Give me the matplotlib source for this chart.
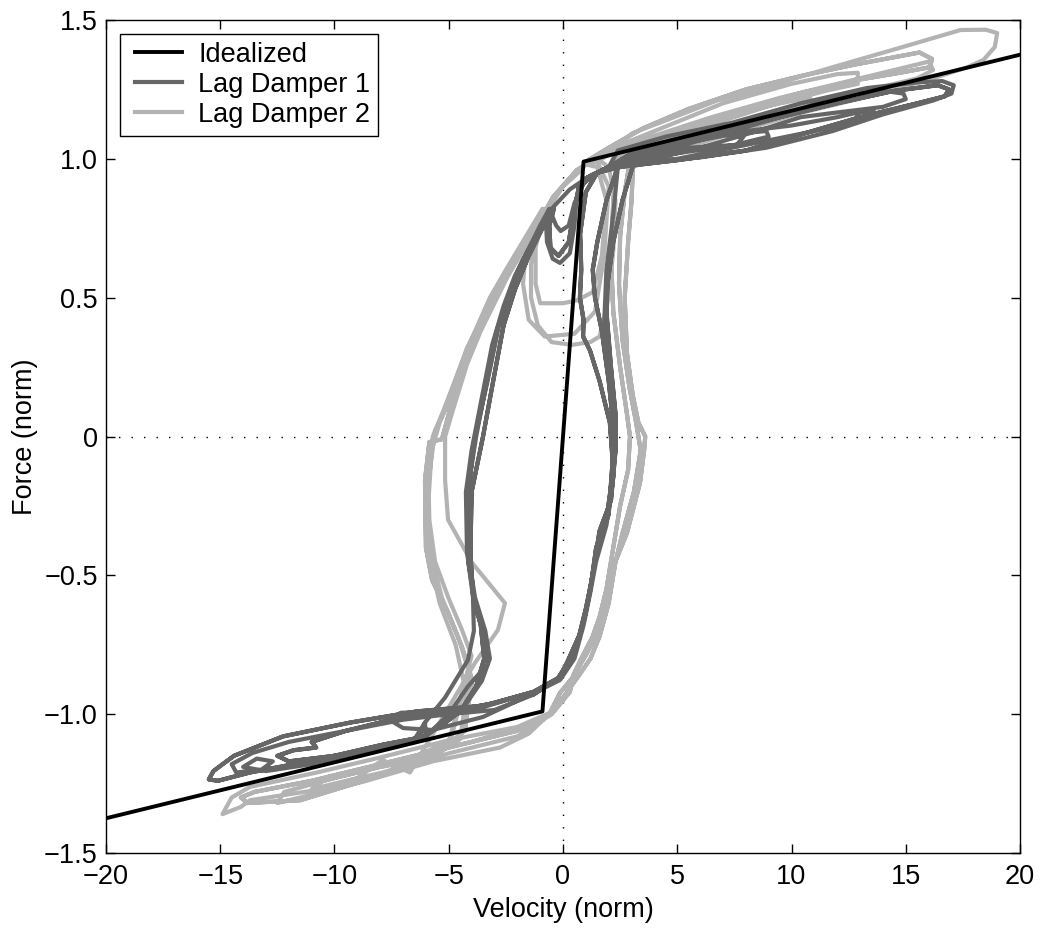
import matplotlib
matplotlib.use("Agg")
import matplotlib.pyplot as plt
from matplotlib.lines import Line2D
from matplotlib.legend_handler import HandlerLine2D

plt.rcParams['font.family'] = ['Liberation Sans', 'DejaVu Sans']

# ---------------- data ----------------
ideal_v = [-20.0, -0.9, 0.9, 20.0]
ideal_f = [-1.375, -0.99, 0.99, 1.375]

x_ticks = [-20, -15, -10, -5, 0, 5, 10, 15, 20]
x_tick_labels = ["\u221220", "\u221215", "\u221210", "\u22125", "0", "5", "10", "15", "20"]
y_ticks = [-1.5, -1.0, -0.5, 0.0, 0.5, 1.0, 1.5]
y_tick_labels = ["\u22121.5", "\u22121.0", "\u22120.5", "0", "0.5", "1.0", "1.5"]

legend_labels = ["Idealized", "Lag Damper 1", "Lag Damper 2"]

# ---- Lag Damper 1 (dark) segments, (velocity, force) ----
d1_rise1 = [(-6.0, -1.08), (-5.16, -1.02), (-4.3, -0.97), (-3.55, -0.88), (-3.2, -0.8), (-3.4, -0.7),
            (-3.85, -0.58), (-4.1, -0.45), (-4.15, -0.3), (-4.1, -0.16), (-3.8, 0.0), (-3.4, 0.17),
            (-2.9, 0.38), (-2.3, 0.53), (-1.8, 0.63), (-1.2, 0.72), (-0.5, 0.82), (0.3, 0.89),
            (1.2, 0.94), (2.0, 0.97)]
d1_rise2 = [(-6.04, -1.03), (-5.16, -0.94), (-4.16, -0.805), (-3.9, -0.7), (-3.95, -0.55), (-4.2, -0.42),
            (-4.25, -0.2), (-4.0, -0.05), (-3.6, 0.12), (-3.1, 0.33), (-2.6, 0.47), (-2.1, 0.58),
            (-1.6, 0.66), (-1.0, 0.76), (-0.6, 0.82), (-0.75, 0.78), (-0.7, 0.7), (-0.45, 0.64),
            (-0.13, 0.625), (0.3, 0.66), (0.5, 0.76), (0.6, 0.86), (1.0, 0.93), (1.8, 0.96)]
d1_rise3 = [(-6.3, -1.09), (-5.3, -1.04), (-4.5, -0.99), (-3.8, -0.9), (-3.45, -0.8), (-3.6, -0.68),
            (-3.95, -0.56), (-4.05, -0.42), (-4.0, -0.2), (-3.5, 0.0), (-3.1, 0.18), (-2.6, 0.4),
            (-2.1, 0.53), (-1.5, 0.65), (-0.9, 0.75), (-0.4, 0.82), (-0.6, 0.76), (-0.55, 0.68),
            (-0.2, 0.65), (0.25, 0.7), (0.45, 0.8), (0.7, 0.9), (1.5, 0.95), (2.2, 0.98)]
d1_rise4 = [(-6.0, -1.08), (-5.0, -1.0), (-4.16, -0.9), (-3.3, -0.82), (-3.5, -0.7), (-3.9, -0.6),
            (-4.15, -0.45), (-4.2, -0.25), (-3.9, -0.02), (-3.3, 0.2), (-2.8, 0.4), (-2.2, 0.55),
            (-1.6, 0.65), (-1.0, 0.74), (-0.5, 0.8), (-0.3, 0.76), (-0.1, 0.74), (0.25, 0.76),
            (0.5, 0.84), (1.0, 0.93), (2.0, 0.97)]
d1_upA = [(2.0, 0.97), (2.4, 1.03), (4.5, 1.08), (7.4, 1.13), (10.4, 1.2), (13.3, 1.255), (15.5, 1.275),
          (16.6, 1.28), (17.1, 1.265), (17.0, 1.235), (16.2, 1.21), (14.0, 1.16), (11.8, 1.1),
          (8.9, 1.04), (6.0, 1.005), (3.1, 0.985)]
d1_upB = [(1.8, 0.96), (3.0, 1.02), (6.0, 1.08), (9.0, 1.14), (12.0, 1.2), (14.5, 1.245), (16.4, 1.265),
          (16.9, 1.25), (16.7, 1.225), (15.5, 1.2), (13.0, 1.15), (10.5, 1.09), (8.0, 1.03),
          (5.0, 0.995), (2.4, 0.97)]
d1_upC = [(2.2, 0.98), (4.0, 1.02), (7.0, 1.09), (9.5, 1.15), (11.8, 1.223), (14.0, 1.245), (14.9, 1.235),
          (15.0, 1.215), (14.0, 1.187), (11.8, 1.165), (10.4, 1.15), (8.5, 1.1), (6.0, 1.04), (3.5, 0.99),
          (1.5, 0.95)]
d1_upD = [(2.0, 0.97), (4.0, 1.04), (7.0, 1.09), (10.0, 1.12), (12.0, 1.15), (12.8, 1.165), (13.6, 1.178),
          (13.5, 1.15), (12.8, 1.145), (13.0, 1.17), (13.7, 1.165), (13.2, 1.14), (11.0, 1.1),
          (8.0, 1.05), (5.0, 1.0), (3.1, 0.985)]
d1_upE = [(2.4, 0.97), (3.0, 1.0), (5.5, 1.06), (7.5, 1.09), (8.9, 1.1), (9.0, 1.08), (7.5, 1.05),
          (5.0, 1.02), (3.5, 1.0), (4.5, 1.06), (6.5, 1.09), (7.9, 1.08), (7.6, 1.05), (5.5, 1.04),
          (3.1, 0.985)]
d1_right1 = [(3.1, 0.985), (2.6, 0.85), (2.2, 0.7), (1.95, 0.55), (1.9, 0.45), (2.1, 0.25), (2.3, 0.08),
             (2.3, -0.05), (2.1, -0.23), (1.6, -0.34), (1.35, -0.47), (1.1, -0.59), (0.8, -0.7),
             (0.2, -0.81), (-0.13, -0.866), (-1.3, -0.92)]
d1_right2 = [(2.4, 0.97), (1.9, 0.85), (1.5, 0.7), (1.3, 0.6), (1.4, 0.5), (1.7, 0.38), (2.0, 0.2),
             (2.25, 0.0), (2.0, -0.28), (1.5, -0.4), (1.25, -0.52), (1.0, -0.62), (0.7, -0.72),
             (0.2, -0.82), (-0.2, -0.87), (-1.3, -0.93)]
d1_right3 = [(1.5, 0.95), (1.0, 0.88), (0.75, 0.73), (0.8, 0.6), (0.74, 0.5), (0.9, 0.42), (0.88, 0.36),
             (1.18, 0.31), (1.6, 0.2), (2.05, 0.05), (2.2, -0.12), (1.9, -0.3), (1.45, -0.4),
             (1.2, -0.55), (0.95, -0.65), (0.6, -0.75), (0.1, -0.83), (-0.3, -0.88), (-1.3, -0.92)]
d1_botA = [(-1.3, -0.92), (-3.5, -0.97), (-5.0, -0.98), (-6.4, -0.99), (-9.3, -1.03), (-12.25, -1.08),
           (-14.4, -1.15), (-15.3, -1.205), (-15.5, -1.235), (-15.1, -1.24), (-13.7, -1.21),
           (-10.8, -1.165), (-7.9, -1.11), (-6.0, -1.08)]
d1_botB = [(-1.3, -0.93), (-3.0, -0.985), (-5.0, -1.0), (-7.0, -1.02), (-9.5, -1.06), (-12.0, -1.1),
           (-13.6, -1.14), (-14.5, -1.18), (-14.3, -1.21), (-13.2, -1.2), (-12.7, -1.17), (-13.4, -1.16),
           (-14.0, -1.19), (-13.0, -1.205), (-11.0, -1.18), (-8.5, -1.13), (-6.5, -1.09), (-6.04, -1.03)]
d1_botC = [(-1.3, -0.92), (-3.0, -0.96), (-5.0, -0.99), (-7.5, -1.02), (-9.5, -1.06), (-11.0, -1.1),
           (-10.8, -1.12), (-11.8, -1.13), (-12.5, -1.15), (-12.0, -1.17), (-10.0, -1.15), (-7.5, -1.12),
           (-6.3, -1.09)]
d1_botD = [(-1.3, -0.92), (-3.5, -0.975), (-5.5, -0.99), (-7.1, -0.995), (-7.6, -1.02), (-7.0, -1.05),
           (-5.7, -1.057), (-3.5, -1.01), (-1.3, -0.925), (-0.13, -0.877), (0.5, -0.8), (0.9, -0.68),
           (1.2, -0.56), (1.45, -0.45), (1.9, -0.32), (2.2, -0.15), (2.3, 0.05), (2.0, 0.22),
           (1.8, 0.4), (1.9, 0.6), (2.2, 0.8), (2.4, 0.97)]

# ---- Lag Damper 2 (light) segments ----
d2_rise1 = [(-4.3, -1.06), (-3.98, -0.877), (-4.42, -0.758), (-5.03, -0.635), (-5.73, -0.517),
            (-6.0, -0.4), (-6.04, -0.157), (-5.85, -0.02), (-5.3, -0.01), (-5.1, 0.05), (-4.6, 0.2),
            (-4.0, 0.34), (-3.4, 0.44), (-2.76, 0.53), (-2.0, 0.64), (-1.3, 0.733), (-0.44, 0.862),
            (0.61, 0.96), (1.6, 1.007)]
d2_rise2 = [(-7.9, -1.165), (-6.7, -1.21), (-4.73, -0.938), (-3.85, -0.815), (-2.85, -0.697),
            (-2.54, -0.6), (-3.98, -0.455), (-5.03, -0.3), (-5.16, -0.157), (-5.16, 0.0), (-4.8, 0.1),
            (-4.2, 0.26), (-3.6, 0.38), (-3.0, 0.48), (-2.4, 0.58), (-1.6, 0.69), (-0.8, 0.8),
            (0.0, 0.9), (0.8, 0.96), (1.0, 0.99)]
d2_rise3 = [(-5.0, -1.1), (-4.0, -0.79), (-4.42, -0.697), (-5.03, -0.578), (-5.6, -0.45), (-5.85, -0.3),
            (-5.9, -0.1), (-5.7, 0.0), (-5.2, 0.1), (-4.5, 0.25), (-3.9, 0.37), (-3.2, 0.5), (-2.5, 0.6),
            (-1.7, 0.71), (-0.9, 0.82), (-1.4, 0.62), (-1.4, 0.5), (-1.1, 0.4), (-0.5, 0.34), (0.4, 0.33),
            (1.2, 0.34), (1.6, 0.36), (2.0, 0.5), (2.2, 0.67), (2.3, 0.85), (2.0, 0.97), (1.5, 1.0)]
d2_rise4 = [(-4.5, -1.09), (-4.1, -0.85), (-4.6, -0.72), (-5.3, -0.58), (-5.8, -0.42), (-5.95, -0.2),
            (-5.6, 0.02), (-5.0, 0.12), (-4.4, 0.27), (-3.7, 0.4), (-3.0, 0.52), (-2.3, 0.62),
            (-1.5, 0.72), (-0.8, 0.82), (-1.2, 0.68), (-1.2, 0.55), (-1.0, 0.48), (0.0, 0.48),
            (0.6, 0.49), (1.3, 0.52), (1.7, 0.65), (1.9, 0.85), (1.5, 0.97), (1.0, 0.98)]
d2_rise5 = [(-5.0, -1.12), (-4.3, -0.9), (-4.7, -0.75), (-5.4, -0.6), (-5.8, -0.45), (-5.9, -0.25),
            (-5.75, -0.05), (-5.4, 0.05), (-4.8, 0.18), (-4.2, 0.32), (-3.5, 0.43), (-2.9, 0.52),
            (-2.2, 0.62), (-1.6, 0.7), (-1.75, 0.55), (-1.5, 0.42), (-0.8, 0.36), (0.5, 0.37),
            (1.4, 0.45), (1.8, 0.65), (2.0, 0.9), (1.5, 0.99)]
d2_upA = [(1.6, 1.007), (3.06, 1.093), (4.55, 1.14), (6.74, 1.21), (8.93, 1.26), (11.8, 1.33), (14.75, 1.4),
          (17.4, 1.464), (18.5, 1.465), (19.0, 1.453), (18.9, 1.403), (18.4, 1.356), (17.7, 1.33),
          (16.2, 1.29), (13.3, 1.223), (10.4, 1.165), (7.44, 1.093), (4.55, 1.02), (3.06, 0.97)]
d2_upB = [(1.0, 0.99), (2.0, 1.04), (3.5, 1.11), (5.5, 1.18), (8.0, 1.25), (10.5, 1.3), (12.8, 1.34),
          (14.75, 1.37), (15.6, 1.383), (16.15, 1.36), (16.06, 1.33), (14.75, 1.31), (12.87, 1.284),
          (10.4, 1.237), (7.44, 1.165), (4.55, 1.08), (2.36, 1.007)]
d2_upC = [(1.5, 1.0), (2.5, 1.05), (4.0, 1.1), (7.0, 1.2), (10.0, 1.27), (12.0, 1.305), (12.9, 1.31),
          (12.9, 1.27), (11.5, 1.245), (9.0, 1.19), (6.0, 1.11), (3.0, 1.03)]
d2_upD = [(1.0, 0.98), (2.0, 1.03), (3.5, 1.07), (6.5, 1.15), (9.5, 1.22), (12.5, 1.28), (15.0, 1.33),
          (16.0, 1.35), (16.2, 1.32), (15.5, 1.29), (13.0, 1.24), (10.0, 1.18), (7.0, 1.12), (4.0, 1.04),
          (2.4, 1.0)]
d2_upE = [(1.5, 0.99), (2.5, 1.04), (4.0, 1.08), (7.0, 1.15), (9.5, 1.2), (10.8, 1.22), (11.0, 1.19),
          (9.5, 1.165), (7.0, 1.11), (4.0, 1.03), (3.0, 1.0)]
d2_right1 = [(3.06, 0.97), (3.0, 0.85), (2.85, 0.7), (2.7, 0.5), (2.8, 0.3), (3.05, 0.15), (3.3, 0.05),
             (3.6, 0.0), (3.55, -0.05), (3.37, -0.167), (2.8, -0.347), (2.2, -0.47), (1.93, -0.59),
             (1.5, -0.707), (1.05, -0.78), (0.44, -0.866), (-0.13, -0.923), (-0.57, -0.995)]
d2_right2 = [(2.36, 1.007), (2.2, 0.85), (2.1, 0.65), (2.2, 0.45), (2.5, 0.25), (2.8, 0.08), (2.93, 0.0),
             (2.85, -0.12), (2.5, -0.25), (2.2, -0.4), (1.9, -0.55), (1.6, -0.65), (1.3, -0.72),
             (0.8, -0.8), (0.45, -0.86), (0.3, -0.92), (-0.1, -0.96), (-0.5, -1.0)]
d2_right3 = [(3.0, 1.03), (2.7, 0.88), (2.5, 0.72), (2.45, 0.55), (2.6, 0.35), (2.9, 0.18), (3.2, 0.05),
             (3.4, -0.05), (3.1, -0.2), (2.6, -0.35), (2.3, -0.45), (2.0, -0.6), (1.6, -0.72),
             (1.2, -0.8), (0.7, -0.86), (0.0, -0.94), (-0.6, -1.0)]
d2_botA = [(-0.57, -0.995), (-2.0, -1.046), (-4.95, -1.093), (-7.9, -1.154), (-10.77, -1.21),
           (-13.7, -1.262), (-14.5, -1.3), (-14.9, -1.36), (-14.1, -1.334), (-13.7, -1.31),
           (-10.77, -1.273), (-9.0, -1.23), (-7.9, -1.165)]
d2_botB = [(-0.5, -1.0), (-2.0, -1.06), (-5.0, -1.12), (-8.0, -1.18), (-11.0, -1.24), (-13.5, -1.28),
           (-14.1, -1.3), (-13.8, -1.32), (-11.5, -1.31), (-8.6, -1.237), (-5.7, -1.154), (-4.3, -1.06)]
d2_botC = [(-0.6, -1.0), (-1.5, -1.07), (-2.75, -1.12), (-5.7, -1.17), (-8.6, -1.24), (-11.5, -1.3),
           (-12.5, -1.32), (-12.2, -1.28), (-10.0, -1.23), (-7.0, -1.17), (-5.0, -1.1)]
d2_botD = [(-0.5, -1.0), (-2.0, -1.08), (-4.95, -1.14), (-7.9, -1.21), (-10.0, -1.25), (-11.0, -1.27),
           (-10.5, -1.24), (-8.0, -1.19), (-6.5, -1.17), (-5.7, -1.154), (-4.5, -1.09)]
d2_botE = [(-0.6, -1.0), (-2.0, -1.05), (-4.0, -1.1), (-6.0, -1.14), (-6.7, -1.2), (-7.5, -1.2),
           (-6.8, -1.17), (-5.0, -1.12)]

d1_order = [d1_rise1, d1_upA, d1_right1, d1_botA,
            d1_rise2, d1_upB, d1_right2, d1_botB,
            d1_rise3, d1_upC, d1_right3, d1_botC,
            d1_rise3, d1_upD, d1_right1, d1_botD, d1_upE, d1_right3, d1_botA,
            d1_rise4, d1_upB, d1_right2, d1_botC]
d2_order = [d2_rise1, d2_upA, d2_right1, d2_botA,
            d2_rise2, d2_upB, d2_right2, d2_botB,
            d2_rise1, d2_upC, d2_right3, d2_botC,
            d2_rise3, d2_upD, d2_right2, d2_botD,
            d2_rise4, d2_upE, d2_right1, d2_botE,
            d2_rise5, d2_upB, d2_right3, d2_botB]


def join(segments):
    vs, fs = [], []
    for seg in segments:
        for v, f in seg:
            vs.append(v)
            fs.append(f)
    return vs, fs


d1_v, d1_f = join(d1_order)
d2_v, d2_f = join(d2_order)

# ---------------- figure ----------------
fig = plt.figure(figsize=(10.42, 9.33), dpi=100)
ax = fig.add_axes([106 / 1042, 1 - 853 / 933, 914 / 1042, 833 / 933])

dot = (0, (1, 8))
ax.axhline(0, color='k', lw=1.0, ls=dot, zorder=1)
ax.axvline(0, color='k', lw=1.0, ls=dot, zorder=1)

lw = 3.0
h2, = ax.plot(d2_v, d2_f, color='#b3b3b3', lw=lw, solid_joinstyle='round', zorder=2)
h1, = ax.plot(d1_v, d1_f, color='#666666', lw=lw, solid_joinstyle='round', zorder=3)
hi, = ax.plot(ideal_v, ideal_f, color='k', lw=2.8, zorder=4)

ax.set_xlim(-20, 20)
ax.set_ylim(-1.5, 1.5)
ax.set_xticks(x_ticks)
ax.set_xticklabels(x_tick_labels)
ax.set_yticks(y_ticks)
ax.set_yticklabels(y_tick_labels)
ax.tick_params(direction='in', length=6.5, width=1, top=True, right=True,
               labelsize=19.5, colors='k')
ax.tick_params(axis='x', pad=8)
ax.tick_params(axis='y', pad=6)
for s in ax.spines.values():
    s.set_linewidth(1.0)
    s.set_color('k')

ax.set_xlabel('Velocity (norm)', fontsize=19.5, labelpad=5)
ax.set_ylabel('Force (norm)', fontsize=19.5, labelpad=4)

leg = ax.legend([hi, h1, h2], legend_labels, loc='upper left', fontsize=19.5,
                frameon=True, fancybox=False, edgecolor='k', framealpha=1,
                borderaxespad=0.5, handlelength=2.0, handletextpad=0.6,
                labelspacing=0.15, borderpad=0.3,
                handler_map={Line2D: HandlerLine2D(xpad=0.26)})
leg.get_frame().set_linewidth(1.0)

fig.savefig('out.png', dpi=100)
